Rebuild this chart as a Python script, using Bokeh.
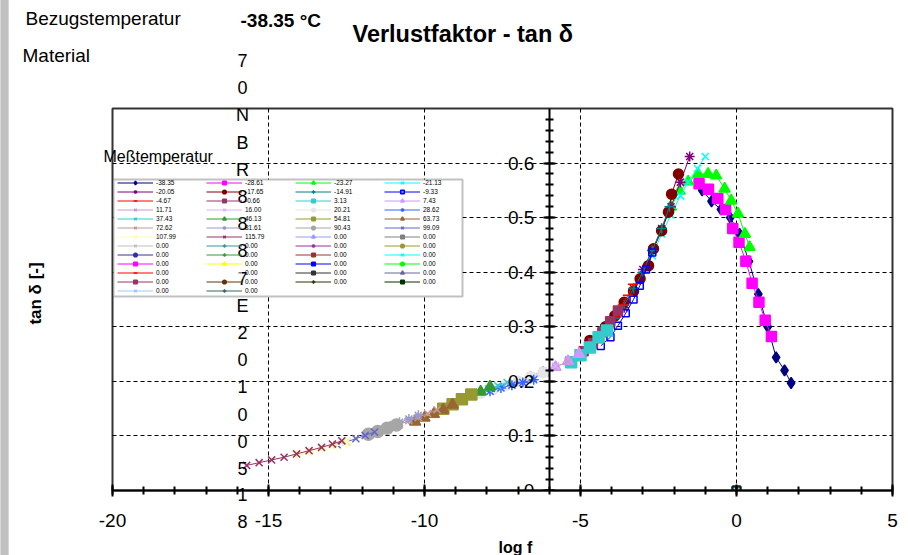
from bokeh.plotting import figure
from bokeh.models import (Range1d, SingleIntervalTicker, Legend, LegendItem, Label,
                          BoxAnnotation, CustomJSTickFormatter)
from bokeh.embed import file_html
from bokeh.resources import INLINE

# ---------------- data ----------------
temps = ["-38.35", "-28.61", "-23.27", "-21.13", "-20.05", "-17.65", "-14.91", "-9.33",
         "-4.67", "-0.66", "3.13", "7.43", "11.71", "16.00", "20.21", "28.62",
         "37.43", "46.13", "54.81", "63.73", "72.62", "81.61", "90.43", "99.09",
         "107.99", "115.79"]
zero_labels = ["0.00"] * 24

logf_01 = [-1.10, -0.80, -0.50, -0.20, 0.10, 0.40, 0.70, 1.00, 1.27, 1.54, 1.75]
tand_01 = [0.550, 0.530, 0.515, 0.500, 0.470, 0.420, 0.360, 0.300, 0.244, 0.220, 0.197]
logf_02 = [-1.20, -0.90, -0.60, -0.35, -0.12, 0.08, 0.30, 0.50, 0.72, 0.92, 1.12]
tand_02 = [0.562, 0.552, 0.535, 0.515, 0.480, 0.455, 0.420, 0.380, 0.345, 0.312, 0.282]
logf_03 = [-2.10, -1.82, -1.55, -1.23, -0.91, -0.65, -0.38, -0.17, 0.05, 0.27, 0.42]
tand_03 = [0.520, 0.549, 0.566, 0.580, 0.580, 0.577, 0.553, 0.531, 0.507, 0.470, 0.446]
logf_04 = [-2.70, -2.40, -2.10, -1.80, -1.55, -1.25, -1.00]
tand_04 = [0.430, 0.470, 0.505, 0.540, 0.565, 0.590, 0.612]
logf_05 = [-3.60, -3.30, -3.00, -2.70, -2.40, -2.10, -1.80, -1.50]
tand_05 = [0.335, 0.370, 0.405, 0.440, 0.480, 0.520, 0.565, 0.612]
logf_06 = [-4.70, -4.20, -3.90, -3.60, -3.30, -3.09, -2.82, -2.66, -2.40, -2.18, -2.08, -1.86]
tand_06 = [0.275, 0.300, 0.320, 0.345, 0.365, 0.388, 0.412, 0.443, 0.476, 0.510, 0.543, 0.580]
logf_07 = [-3.90, -3.60, -3.30, -3.00, -2.70, -2.40, -2.15]
tand_07 = [0.315, 0.340, 0.370, 0.400, 0.440, 0.480, 0.520]
logf_08 = [-4.35, -4.04, -3.80, -3.55, -3.30, -3.10, -2.90, -2.70]
tand_08 = [0.265, 0.281, 0.302, 0.325, 0.350, 0.375, 0.405, 0.436]
logf_09 = [-4.05, -3.85, -3.65, -3.48, -3.32]
tand_09 = [0.300, 0.318, 0.340, 0.358, 0.378]
logf_10 = [-4.90, -4.60, -4.30, -4.05, -3.80]
tand_10 = [0.255, 0.270, 0.290, 0.310, 0.330]
logf_11 = [-5.30, -5.00, -4.70, -4.42, -4.15]
tand_11 = [0.235, 0.248, 0.262, 0.281, 0.293]
logf_12 = [-7.00, -6.60, -6.20, -5.80, -5.40, -5.05]
tand_12 = [0.198, 0.207, 0.216, 0.226, 0.237, 0.250]
logf_13 = [-7.40, -7.00, -6.60, -6.20, -5.80, -5.40]
tand_13 = [0.192, 0.200, 0.208, 0.217, 0.226, 0.236]
logf_14 = [-7.80, -7.40, -7.00, -6.60, -6.20, -5.80]
tand_14 = [0.185, 0.193, 0.201, 0.210, 0.219, 0.228]
logf_15 = [-8.20, -7.80, -7.40, -7.00, -6.60, -6.20]
tand_15 = [0.178, 0.185, 0.193, 0.200, 0.208, 0.216]
logf_16 = [-7.90, -7.55, -7.20, -6.85, -6.50]
tand_16 = [0.182, 0.188, 0.193, 0.198, 0.203]
logf_17 = [-8.25, -7.95, -7.65, -7.35]
tand_17 = [0.180, 0.186, 0.192, 0.198]
logf_18 = [-8.80, -8.50, -8.20, -7.90]
tand_18 = [0.166, 0.173, 0.181, 0.190]
logf_19 = [-9.40, -9.10, -8.80, -8.50]
tand_19 = [0.150, 0.158, 0.167, 0.176]
logf_20 = [-10.30, -10.00, -9.70, -9.40, -9.10]
tand_20 = [0.126, 0.133, 0.140, 0.148, 0.157]
logf_21 = [-10.80, -10.50, -10.20, -9.90, -9.60]
tand_21 = [0.121, 0.128, 0.134, 0.141, 0.148]
logf_22 = [-11.10, -10.80, -10.50, -10.20]
tand_22 = [0.118, 0.125, 0.131, 0.138]
logf_23 = [-11.80, -11.50, -11.20, -10.90]
tand_23 = [0.103, 0.108, 0.114, 0.120]
logf_24 = [-12.80, -12.50, -12.20, -11.90, -11.60]
tand_24 = [0.084, 0.089, 0.095, 0.101, 0.107]
logf_25 = [-14.10, -13.70, -13.30, -12.90, -12.50]
tand_25 = [0.066, 0.071, 0.077, 0.083, 0.089]
logf_26 = [-15.70, -15.30, -14.90, -14.50, -14.10, -13.70, -13.30, -12.95, -12.65]
tand_26 = [0.046, 0.051, 0.056, 0.061, 0.067, 0.073, 0.079, 0.085, 0.091]
logf_zero = [0.0]
tand_zero = [0.0]

x_ticks_interval = 5
y_ticks_interval = 0.1
material_chars = list("70NBR8887E20100518")

# ---------------- styles ----------------
colors = ["#000080", "#FF00FF", "#00FF00", "#00FFFF", "#800080", "#800000", "#008080", "#0000FF",
          "#FF0000", "#993366", "#33CCCC", "#CC99FF", "#CC99CC", "#D9B3FF", "#E6E6E6", "#3366FF",
          "#33CCCC", "#339933", "#999933", "#996633", "#C09999", "#9999CC", "#A6A6A6", "#6666CC",
          "#FFFFAA", "#993366"]
markers = ["diamond", "square", "triangle", "x", "asterisk", "circle", "cross", "square",
           "dash", "square", "square", "triangle", "x", "x", "circle", "asterisk",
           "x", "triangle", "square", "triangle", "x", "asterisk", "circle", "x",
           "asterisk", "x"]
sizes = [11, 10, 11, 10, 10, 10, 10, 7, 10, 9, 11, 11, 10, 10, 10, 10,
         10, 11, 11, 11, 10, 10, 12, 10, 10, 10]
hollow = [False] * 26
hollow[7] = True
zero_colors = ["#9999FF", "#808080", "#C0C0C0", "#339999", "#993399", "#999933",
               "#333399", "#339933", "#993333", "#00FFFF", "#FF00FF", "#FFFF00",
               "#0000FF", "#00FF00", "#FF0000", "#FFFFFF", "#333333", "#666699",
               "#993366", "#663300", "#333300", "#003300", "#99CCFF", "#336666"]
zero_markers = ["triangle", "square", "x", "cross", "asterisk", "circle",
                "circle", "cross", "square", "x", "square", "triangle",
                "square", "circle", "dash", "circle", "square", "triangle",
                "square", "circle", "cross", "square", "x", "cross"]

logf_all = [logf_01, logf_02, logf_03, logf_04, logf_05, logf_06, logf_07, logf_08, logf_09,
            logf_10, logf_11, logf_12, logf_13, logf_14, logf_15, logf_16, logf_17, logf_18,
            logf_19, logf_20, logf_21, logf_22, logf_23, logf_24, logf_25, logf_26]
tand_all = [tand_01, tand_02, tand_03, tand_04, tand_05, tand_06, tand_07, tand_08, tand_09,
            tand_10, tand_11, tand_12, tand_13, tand_14, tand_15, tand_16, tand_17, tand_18,
            tand_19, tand_20, tand_21, tand_22, tand_23, tand_24, tand_25, tand_26]

FONT = "Liberation Sans"
W, H = 908, 555
L, R, T, B = 112, 16, 108, 65
XMIN, XMAX, YMIN, YMAX = -20, 5, 0, 0.7

p = figure(width=W, height=H, output_backend="svg", toolbar_location=None,
           x_range=Range1d(XMIN, XMAX), y_range=Range1d(YMIN, YMAX),
           min_border_left=L, min_border_right=R, min_border_top=T, min_border_bottom=B,
           background_fill_color="white", border_fill_color="white")
p.outline_line_color = "#333333"
p.outline_line_width = 2

xt = SingleIntervalTicker(interval=x_ticks_interval, num_minor_ticks=5)
yt = SingleIntervalTicker(interval=y_ticks_interval, num_minor_ticks=5)
p.xaxis.ticker = xt
p.yaxis.ticker = yt
p.xgrid.ticker = xt
p.ygrid.ticker = yt
for g in (p.xgrid, p.ygrid):
    g.grid_line_color = "black"
    g.grid_line_dash = "4 3"
    g.grid_line_width = 1

p.yaxis.fixed_location = -6
p.xaxis.formatter = CustomJSTickFormatter(code="return tick.toFixed(0);")
p.yaxis.formatter = CustomJSTickFormatter(code="return (Math.round(tick*10)/10).toString();")
for ax in (p.xaxis, p.yaxis):
    ax.axis_line_width = 2
    ax.axis_line_color = "black"
    ax.major_tick_in = 6
    ax.major_tick_out = 6
    ax.minor_tick_in = 4
    ax.minor_tick_out = 4
    ax.major_tick_line_width = 2
    ax.minor_tick_line_width = 2
    ax.major_tick_line_color = "black"
    ax.minor_tick_line_color = "black"
    ax.major_label_text_font = FONT
    ax.major_label_text_font_size = "19px"
    ax.major_label_text_color = "black"
p.xaxis.major_label_standoff = 17
p.yaxis.major_label_standoff = 9


def X(px):
    return XMIN + (px - L) * (XMAX - XMIN) / (W - L - R)


def Y(py):
    return YMAX - (py - T) * (YMAX - YMIN) / (H - T - B)


items = []
for i in range(26):
    c = colors[i]
    lr = p.line(logf_all[i], tand_all[i], line_color=c, line_width=1)
    sr = p.scatter(logf_all[i], tand_all[i], marker=markers[i], size=sizes[i],
                   line_color=c, fill_color=c, fill_alpha=0 if hollow[i] else 1,
                   line_width=1.5)
    items.append(LegendItem(label=temps[i], renderers=[lr, sr]))
for j in range(24):
    c = zero_colors[j]
    lr = p.line(logf_zero, tand_zero, line_color=c, line_width=1)
    sr = p.scatter(logf_zero, tand_zero, marker=zero_markers[j], size=8,
                   line_color=c, fill_color=c, line_width=1.5)
    items.append(LegendItem(label=zero_labels[j], renderers=[lr, sr]))

# legend frame (inside the plot frame)
p.add_layout(BoxAnnotation(left=X(113), right=X(462), top=Y(179), bottom=Y(296),
                           fill_color="white", fill_alpha=1, line_color="#333333",
                           line_width=2))
legend = Legend(items=items, location=(117 - L, (H - B) - 295), orientation="horizontal",
                ncols=4, glyph_width=36, glyph_height=9, label_height=9, label_width=50,
                label_standoff=3, spacing=0, padding=0, margin=0,
                label_text_font=FONT, label_text_font_size="6.5px", label_text_color="black",
                border_line_alpha=0, background_fill_alpha=0)
p.add_layout(legend, "center")


def lab(text, px, py, size, side, bold=False, align="left", angle=0, baseline="middle",
        lh=1.2, **kw):
    p.add_layout(Label(x=X(px), y=Y(py), text=text, text_font=FONT,
                       text_font_size=f"{size}px", text_font_style="bold" if bold else "normal",
                       text_color="black", text_align=align, text_baseline=baseline,
                       angle=angle, text_line_height=lh, **kw), side)


lab(" ", 4, 277, 1, "left", align="center",
    background_fill_color="#C0C0C0", padding=dict(left=4, right=4, top=278, bottom=278))
lab("Verlustfaktor - tan δ", 352, 33, 23.5, "above", bold=True)
lab("Bezugstemperatur", 25, 18, 19, "above")
lab("-38.35 °C", 240, 20, 19, "above", bold=True)
lab("Material", 22, 55, 19, "above")
lab("Meßtemperatur", 103, 156, 16, "above")

# material name, written one character per line
PITCH = 27.1
C0 = 60.7
LH = 1.36
lab("\n".join(material_chars[:2]), 242, C0 - 10, 18, "left", align="center",
    baseline="top", lh=LH)
lab("\n".join(material_chars[16:]), 242, C0 + 16 * PITCH - 10, 18, "left", align="center",
    baseline="top", lh=LH)
lab("\n".join(material_chars[2:16]), 242, C0 + 2 * PITCH - 10, 18, "center", align="center",
    baseline="top", lh=LH)

lab("tan δ [-]", 35, 293, 17, "left", bold=True, align="center", angle=1.5708)
lab("log f", 515, 547, 16, "below", bold=True, align="center")

open("out.html", "w").write(file_html(p, INLINE))
